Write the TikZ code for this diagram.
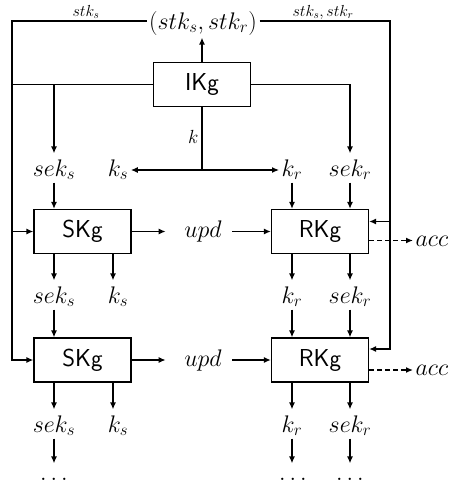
\RequirePackage{fix-cm}
\documentclass[tikz,border=0pt]{standalone}
\usetikzlibrary{arrows.meta,calc}
\begin{document}
\begin{tikzpicture}[x=1pt,y=-1pt,
  line width=1.3pt,
  arr/.style={-{Latex[length=7pt,width=6pt]}},
  dsh/.style={dash pattern=on 5pt off 3pt},
  kbox/.style={draw, minimum width=97pt, minimum height=44pt, inner sep=0pt, font=\sffamily\fontsize{24.5}{28}\selectfont},
  lab/.style={anchor=base, inner sep=2pt, text height=20pt, text depth=4pt, font=\fontsize{24}{28}\selectfont},
  dotlab/.style={lab, text height=14pt, text depth=0pt},
  sml/.style={anchor=base, inner sep=1pt, font=\fontsize{16}{19}\selectfont},
  big/.style={anchor=base, inner sep=2pt, font=\fontsize{24}{28}\selectfont}
]
\useasboundingbox (0,0) rectangle (449,485);
% boxes
\node[kbox] (ikg) at (202,84.5) {IKg};
\node[kbox] (skg1) at (82.5,231.5) {SKg};
\node[kbox] (rkg1) at (320,231.5) {RKg};
\node[kbox] (skg2) at (82.5,360) {SKg};
\node[kbox] (rkg2) at (320,360) {RKg};
% top labels
\node[big] (tup) at (203,29) {$(stk_s, stk_r)$};
\node[sml] (ls) at (86,16) {$stk_s$};
\node[sml] (lr) at (323,16) {$stk_s, stk_r$};
\node[sml, anchor=base east, font=\fontsize{19}{22}\selectfont] (kl) at (200,143) {$k$};
% row 1
\node[lab] (se1) at (54,176) {$sek_s$};
\node[lab] (ks1) at (118,176) {$k_s$};
\node[lab] (kr1) at (292,176) {$k_r$};
\node[lab] (sr1) at (350,176) {$sek_r$};
% row 2
\node[lab] (se2) at (54,303) {$sek_s$};
\node[lab] (ks2) at (118,303) {$k_s$};
\node[lab] (kr2) at (292,303) {$k_r$};
\node[lab] (sr2) at (350,303) {$sek_r$};
% row 3
\node[lab] (se3) at (54,432) {$sek_s$};
\node[lab] (ks3) at (118,432) {$k_s$};
\node[lab] (kr3) at (292,432) {$k_r$};
\node[lab] (sr3) at (350,432) {$sek_r$};
% dots
\node[dotlab] (d1) at (54,480) {$\dots$};
\node[dotlab] (d2) at (293,480) {$\dots$};
\node[dotlab] (d3) at (350,480) {$\dots$};
% upd / acc
\node[lab] (upd1) at (203,237) {$upd$};
\node[lab] (upd2) at (203,366) {$upd$};
\node[lab, anchor=base west] (acc1) at (413,246) {$acc$};
\node[lab, anchor=base west] (acc2) at (413,375) {$acc$};
% coordinates
\coordinate (tl) at (12,21);
\coordinate (tr) at (390,21);
\coordinate (kj) at (202,170);
\coordinate (r1in) at ($(rkg1.east)+(0,-10)$);
\coordinate (r2in) at ($(rkg2.east)+(0,-11)$);
\coordinate (a1) at ($(rkg1.east)+(0,9)$);
\coordinate (a2) at ($(rkg2.east)+(0,10)$);
% top loop
\draw[arr] (tl -| tup.west) -- (tl) |- (skg2.west);
\draw[arr] (tl |- skg1.west) -- (skg1.west);
\draw[arr] (tr -| tup.east) -- (tr) |- (r2in);
\draw[arr] (tr |- r1in) -- (r1in);
\draw[arr] (ikg.north) -- (ikg.north |- tup.south);
% IKg outputs
\draw (ikg.west) -- (ikg.west -| tl);
\draw[arr] (ikg.west -| se1) -- (se1.north);
\draw[arr] (ikg.east) -| (sr1.north);
\draw (ikg.south) -- (kj);
\draw[arr] (kj) -- (kj -| ks1.east);
\draw[arr] (kj) -- (kj -| kr1.west);
% row1 -> boxes 1
\draw[arr] (se1.south) -- (se1.south |- skg1.north);
\draw[arr] (kr1.south) -- (kr1.south |- rkg1.north);
\draw[arr] (sr1.south) -- (sr1.south |- rkg1.north);
% boxes 1 -> row2
\draw[arr] (skg1.south -| se2) -- (se2.north);
\draw[arr] ($(skg1.south -| ks2.north)+(-5,0)$) -- ($(ks2.north)+(-5,0)$);
\draw[arr] (rkg1.south -| kr2) -- (kr2.north);
\draw[arr] (rkg1.south -| sr2) -- (sr2.north);
% row2 -> boxes 2
\draw[arr] (se2.south) -- (se2.south |- skg2.north);
\draw[arr] (kr2.south) -- (kr2.south |- rkg2.north);
\draw[arr] (sr2.south) -- (sr2.south |- rkg2.north);
% boxes 2 -> row3
\draw[arr] (skg2.south -| se3) -- (se3.north);
\draw[arr] ($(skg2.south -| ks3.north)+(-5,0)$) -- ($(ks3.north)+(-5,0)$);
\draw[arr] (rkg2.south -| kr3) -- (kr3.north);
\draw[arr] (rkg2.south -| sr3) -- (sr3.north);
% row3 -> dots
\draw[arr] (se3.south) -- (d1.north);
\draw[arr] (kr3.south) -- (kr3.south |- d2.north);
\draw[arr] (sr3.south) -- (d3.north);
% upd
\draw[arr] (skg1.east) -- ($(skg1.east -| upd1.west)+(-16,0)$);
\draw[arr] ($(rkg1.west -| upd1.east)+(8,0)$) -- (rkg1.west);
\draw[arr] (skg2.east) -- ($(skg2.east -| upd2.west)+(-16,0)$);
\draw[arr] ($(rkg2.west -| upd2.east)+(8,0)$) -- (rkg2.west);
% acc
\draw[arr, dsh] (a1) -- (a1 -| acc1.west);
\draw[arr, dsh] (a2) -- (a2 -| acc2.west);
\end{tikzpicture}
\end{document}
